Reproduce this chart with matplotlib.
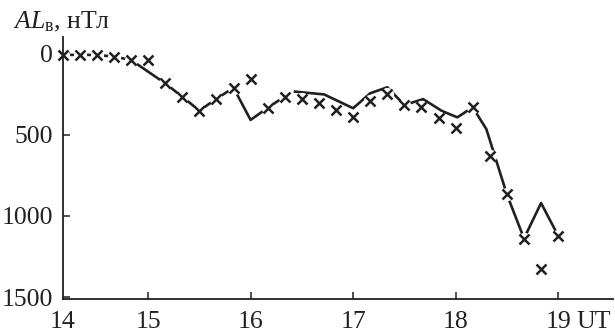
import matplotlib
matplotlib.use("Agg")
import matplotlib.pyplot as plt

plt.rcParams["font.family"] = ["Liberation Serif", "DejaVu Serif"]
plt.rcParams["mathtext.fontset"] = "custom"
plt.rcParams["mathtext.rm"] = "Liberation Serif"
plt.rcParams["mathtext.it"] = "Liberation Serif:italic"

# Observed AL index (crosses), 10-minute samples
obs_time = ["14:10", "14:20", "14:30", "14:40", "14:50", "15:00",
            "15:10", "15:20", "15:30", "15:40", "15:50", "16:00",
            "16:10", "16:20", "16:30", "16:40", "16:50", "17:00",
            "17:10", "17:20", "17:30", "17:40", "17:50", "18:00",
            "18:10", "18:20", "18:30", "18:40", "18:50", "19:00"]
obs_al = [10, 10, 10, 21, 41, 41,
          185, 267, 353, 280, 212, 161,
          335, 266, 283, 304, 349, 390,
          295, 250, 318, 328, 400, 458,
          332, 632, 868, 1139, 1328, 1122]

# Reference curve, first part
curve1_time = ["14:10", "14:20", "14:30", "14:40", "14:50", "15:10",
               "15:20", "15:30", "15:40", "15:50", "16:00", "16:10", "16:20"]
curve1_al = [10, 10, 10, 21, 41, 185, 267, 353, 280, 212, 410, 335, 266]

# Reference curve, second part
curve2_time = ["16:26", "16:43", "17:00", "17:10", "17:20", "17:30",
               "17:41", "17:52", "18:01", "18:10", "18:18", "18:30",
               "18:40", "18:50", "19:00"]
curve2_al = [236, 253, 338, 246, 209, 318, 282, 355, 394, 332, 467, 868,
             1139, 921, 1122]

x_ticks = [15, 16, 17, 18, 19]
y_ticks = [0, 500, 1000, 1500]


def hours(t):
    h, m = t.split(":")
    return int(h) + int(m) / 60.0


ink = "#231f20"
fs = 18.5
xpad = 8.5

fig = plt.figure(figsize=(6.15, 3.35), dpi=100)
ax = fig.add_axes([63 / 615, 1 - 299 / 335, 550 / 615, 262 / 335])

for tt, vv in ((curve1_time, curve1_al), (curve2_time, curve2_al)):
    ax.plot([hours(t) for t in tt], vv, color=ink, lw=1.9, zorder=2)

ox = [hours(t) for t in obs_time]
# white discs open a small gap in the curve around each cross
ax.plot(ox, obs_al, ls="none", marker="o", ms=9.5, mfc="white", mec="none",
        zorder=2.2)
ax.plot(ox, obs_al, ls="none", marker="x", ms=7.5, mew=1.8, color=ink,
        zorder=3, clip_on=False)

ax.set_xlim(14.17, 19.535)
ax.set_ylim(1511, -100)
ax.set_xticks(x_ticks)
ax.set_yticks(y_ticks)
ax.tick_params(direction="in", length=5, width=1.1, colors=ink,
               labelsize=fs)
ax.tick_params(axis="x", pad=xpad)
ax.tick_params(axis="y", pad=7)

for s in ("top", "right"):
    ax.spines[s].set_visible(False)
for s in ("left", "bottom"):
    ax.spines[s].set_linewidth(1.3)
    ax.spines[s].set_color(ink)

ax.annotate("14", xy=(0, 0), xycoords="axes fraction", xytext=(0, -xpad),
            textcoords="offset points", ha="center", va="top",
            fontsize=fs, color=ink)
ax.annotate("UT", xy=(19, 0), xycoords=("data", "axes fraction"),
            xytext=(13.5, -xpad), textcoords="offset points", ha="left",
            va="top", fontsize=fs, color=ink)

fig.text(13 / 615, 1 - 28 / 335, r"$AL_{\mathrm{в}}$, нТл", fontsize=18.5,
         color=ink, ha="left", va="baseline")

fig.savefig("out.png", dpi=100)
